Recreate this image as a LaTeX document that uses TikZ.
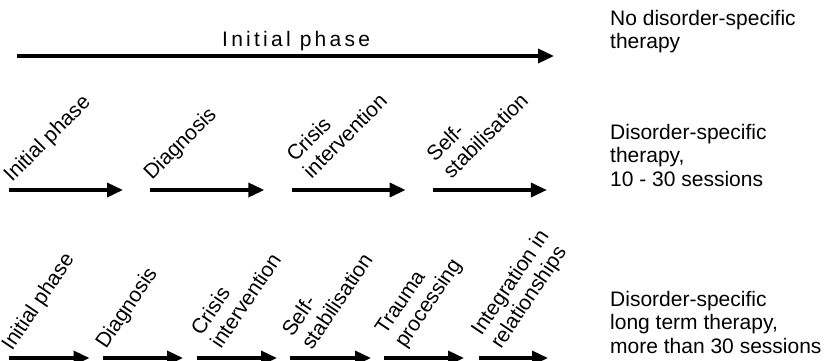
\documentclass[tikz,border=0pt]{standalone}
\usepackage{fontspec}
\setmainfont{Liberation Sans}
\usetikzlibrary{arrows.meta}
\begin{document}
\begin{tikzpicture}[x=1pt, y=-1pt,
  phase/.style={line width=3.5pt, -{Triangle[length=16pt, width=14pt]}},
  lbl/.style={font=\fontsize{21}{23.5}\selectfont, inner sep=0pt, align=left, anchor=base west},
  tilt/.style={lbl, rotate=#1},
]
\useasboundingbox (0,0) rectangle (825,361);

% Row 1: a single initial phase
\coordinate (a0) at (17,56);
\coordinate (b0) at (554,56);
\draw[phase] (a0) -- (b0);
\node[lbl] (t0) at (222,46.7) {\addfontfeatures{LetterSpace=15.5}Initial phase};

% Row 2: four phases (multi-line labels are placed by their last line)
\foreach \i/\x in {1/9, 2/150.3, 3/291.6, 4/432.9} {
  \coordinate (a2\i) at (\x,190);
  \coordinate (b2\i) at (\x+114,190);
  \draw[phase] (a2\i) -- (b2\i);
}
\node[tilt=45] (l21) at (12,183) {Initial phase};
\node[tilt=45] (l22) at (152,181) {Diagnosis};
\node[tilt=45] (l23) at (311.6,179.6) {Crisis\\intervention};
\node[tilt=45] (l24) at (451.6,179.6) {Self-\\stabilisation};

% Row 3: six phases
\foreach \i/\x/\e in {1/9/89.5, 2/103/183, 3/196.5/277, 4/290/371, 5/384/464, 6/479/548} {
  \coordinate (a3\i) at (\x,358);
  \coordinate (b3\i) at (\e,358);
  \draw[phase] (a3\i) -- (b3\i);
}
\node[tilt=56] (l31) at (12,352) {Initial phase};
\node[tilt=56] (l32) at (106,350) {Diagnosis};
\node[tilt=56] (l33) at (221,350) {Crisis\\intervention};
\node[tilt=56] (l34) at (312,351) {Self-\\stabilisation};
\node[tilt=56] (l35) at (405,349) {Trauma\\processing};
\node[tilt=56] (l36) at (501,350) {Integration in\\relationships};

% Therapy descriptions
\node[lbl] (d1) at (610,49) {No disorder-specific\\therapy};
\node[lbl] (d2) at (610,186) {Disorder-specific\\therapy,\\10 - 30 sessions};
\node[lbl] (d3) at (610,353) {Disorder-specific\\long term therapy,\\more than 30 sessions};
\end{tikzpicture}
\end{document}
